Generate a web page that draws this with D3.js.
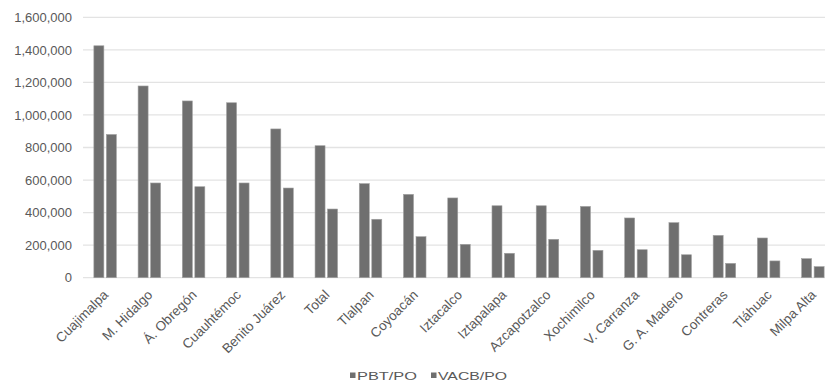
<!DOCTYPE html>
<html>
<head>
<meta charset="utf-8">
<script src="https://cdn.jsdelivr.net/npm/d3@7"></script>
<style>
  html, body { margin: 0; padding: 0; background: #fff; }
  svg { display: block; font-family: "Liberation Sans", Arial, sans-serif; }
</style>
</head>
<body>
<svg id="chart" width="825" height="387"></svg>
<script>
// Productivity per employed person by delegation
const categories = ["Cuajimalpa", "M. Hidalgo", "Á. Obregón", "Cuauhtémoc", "Benito Juárez", "Total",
  "Tlalpan", "Coyoacán", "Iztacalco", "Iztapalapa", "Azcapotzalco", "Xochimilco",
  "V. Carranza", "G. A. Madero", "Contreras", "Tláhuac", "Milpa Alta"];
const pbtPo = [1425000, 1178000, 1086000, 1075000, 914000, 811000, 578000, 512000, 490000,
  442000, 442000, 438000, 367000, 338000, 260000, 244000, 117000];
const vacbPo = [880000, 582000, 559000, 582000, 551000, 422000, 359000, 252000, 205000,
  150000, 236000, 168000, 172000, 141000, 88000, 103000, 68000];
const seriesNames = ["PBT/PO", "VACB/PO"];
const yTicks = [0, 200000, 400000, 600000, 800000, 1000000, 1200000, 1400000, 1600000];

const svg = d3.select("#chart");
const plot = { left: 83, right: 835, top: 17.3, bottom: 277.7 };
const textColor = "#595959";
const barColor = "#6f6f6f";

const x = d3.scaleBand().domain(categories).range([plot.left, plot.right]);
const x1 = d3.scaleBand().domain(seriesNames).range([0, x.bandwidth()]).paddingInner(0.2).paddingOuter(0.87);
const y = d3.scaleLinear().domain([0, 1600000]).range([plot.bottom, plot.top]);

const fmt = d3.format(",");

// gridlines
svg.append("g")
  .selectAll("line")
  .data(yTicks)
  .join("line")
  .attr("x1", plot.left).attr("x2", plot.right)
  .attr("y1", d => y(d)).attr("y2", d => y(d))
  .attr("stroke", "#e3e3e3").attr("stroke-width", 1.3);

// y axis labels
const yAxis = d3.axisLeft(y).tickValues(yTicks).tickFormat(fmt).tickSize(0).tickPadding(0);
svg.append("g")
  .attr("transform", `translate(${plot.left - 11},0)`)
  .call(yAxis)
  .call(g => g.select(".domain").remove())
  .call(g => g.selectAll("text").attr("fill", textColor).attr("font-size", "13px")
    .attr("font-family", "'Liberation Sans', Arial, sans-serif"));

// bars
const rows = categories.map((c, i) => ({ c, vals: [pbtPo[i], vacbPo[i]] }));
const groups = svg.append("g").selectAll("g")
  .data(rows).join("g")
  .attr("transform", d => `translate(${x(d.c)},0)`);
groups.selectAll("rect")
  .data(d => d.vals.map((v, k) => ({ key: seriesNames[k], v })))
  .join("rect")
  .attr("x", d => x1(d.key))
  .attr("width", x1.bandwidth())
  .attr("y", d => y(d.v))
  .attr("height", d => y(0) - y(d.v))
  .attr("fill", barColor)
  .attr("stroke", "#a0a0a0")
  .attr("stroke-width", 0.6);

// x axis labels
const xAxis = d3.axisBottom(x).tickSize(0).tickPadding(0);
svg.append("g")
  .attr("transform", `translate(0,${plot.bottom})`)
  .call(xAxis)
  .call(g => g.select(".domain").remove())
  .call(g => g.selectAll("text")
    .attr("fill", textColor)
    .attr("font-size", "13.5px")
    .attr("font-family", "'Liberation Sans', Arial, sans-serif")
    .attr("text-anchor", "end")
    .attr("dy", "0")
    .attr("transform", "translate(4,18) rotate(-45)"));

// legend
const legend = svg.append("g").attr("transform", "translate(350,380)");
const legendItems = [{ name: seriesNames[0], x: 0, w: 60 }, { name: seriesNames[1], x: 81, w: 69 }];
legendItems.forEach(it => {
  legend.append("rect").attr("x", it.x).attr("y", -7.5).attr("width", 5.5).attr("height", 5.5).attr("fill", barColor);
  legend.append("text").attr("x", it.x + 7).attr("y", 0)
    .attr("font-size", "11.5px").attr("fill", textColor)
    .attr("textLength", it.w).attr("lengthAdjust", "spacingAndGlyphs")
    .text(it.name);
});
</script>
</body>
</html>
